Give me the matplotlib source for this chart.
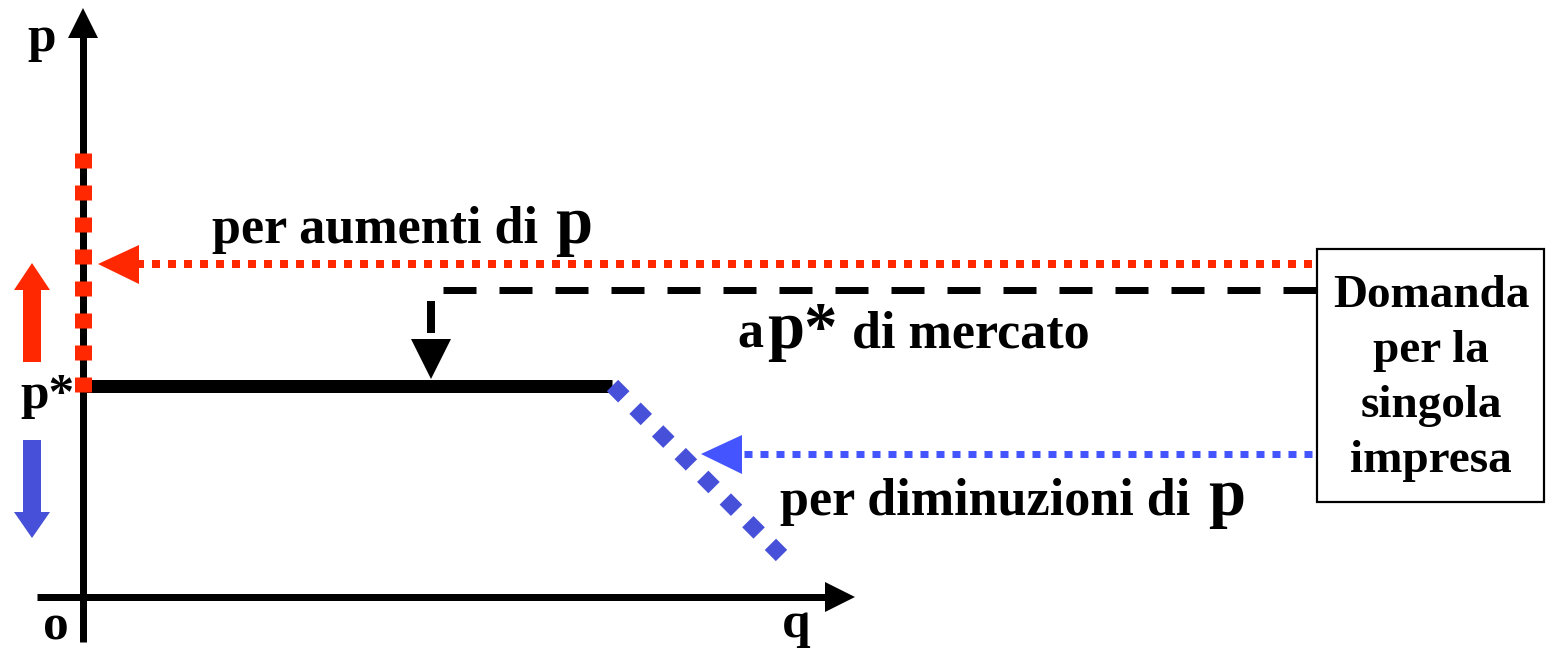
import matplotlib
matplotlib.use("Agg")
import matplotlib.pyplot as plt
from matplotlib.patches import Polygon, Rectangle

# ---------------- diagram values (picture units, y grows downward) ----------
origin_q, origin_p = 83, 597          # origin of the axes
q_axis_end = 855                      # tip of the q axis arrow
p_axis_end = 8                        # tip of the p axis arrow
p_star = 386                          # market price level p*
q_kink = 612                          # end of the flat demand segment
drop_q = [612.5, 781.5]               # demand after price cut (start, end)
drop_p = [385.5, 555.5]
raise_p = [392, 153]                  # vertical demand for price rises
market_level = 290                    # dashed "a p* di mercato" guide
raise_level = 264                     # red dotted pointer level
cut_level = 454                       # blue dotted pointer level
pointer_start = 1312                  # where the pointers leave the box

axis_labels = ["p", "q", "o", "p*"]
label_raise = ["per aumenti di", "p"]
label_market = ["a", "p*", "di mercato"]
label_cut = ["per diminuzioni di", "p"]
box_lines = ["Domanda", "per la", "singola", "impresa"]

RED = "#FF2800"
BLUE_D = "#4650D8"
BLUE_L = "#4455FF"
FONT = "Liberation Serif"

W, H = 1547, 651
fig = plt.figure(figsize=(W / 100, H / 100), dpi=100)
ax = fig.add_axes([0, 0, 1, 1])
ax.set_xlim(0, W)
ax.set_ylim(H, 0)
ax.axis("off")

PT = 72 / 100  # points per pixel


def line(xs, ys, color, lw_px, dash=None, z=2):
    kw = dict(color=color, lw=lw_px * PT, solid_capstyle="butt",
              dash_capstyle="butt", zorder=z)
    if dash is not None:
        kw["dashes"] = (dash[0] / lw_px, dash[1] / lw_px)
    ax.plot(xs, ys, **kw)


def tri(pts, color, z=3):
    ax.add_patch(Polygon(pts, closed=True, color=color, lw=0, zorder=z))


def txt(x, y, s, size, **kw):
    ax.text(x, y, s, fontsize=size, fontfamily=FONT, fontweight="bold",
            va="baseline", **kw)


# ---------------- axes ----------------
line([origin_q, origin_q], [642, p_axis_end + 29], "black", 7)
tri([(origin_q - 15, p_axis_end + 30), (origin_q + 15, p_axis_end + 30),
     (origin_q, p_axis_end)], "black")
line([37, q_axis_end - 29], [origin_p, origin_p], "black", 7)
tri([(q_axis_end - 30, origin_p - 15), (q_axis_end - 30, origin_p + 15),
     (q_axis_end, origin_p)], "black")

txt(27, 51, axis_labels[0], 37)
txt(782, 637, axis_labels[1], 37)
txt(43, 639, axis_labels[2], 37)
txt(20, 408, axis_labels[3], 37)

# ---------------- demand curve ----------------
line([origin_q, q_kink], [p_star, p_star], "black", 13, z=4)
line([origin_q, origin_q], raise_p, RED, 17, dash=(15, 17), z=5)
line(drop_q, drop_p, BLUE_D, 16, dash=(16, 16), z=5)

# ---------------- side arrows ----------------
line([32, 32], [362, 288], RED, 18)
tri([(14, 290), (50, 290), (32, 263)], RED)
line([32, 32], [440, 514], BLUE_D, 18)
tri([(14, 512), (50, 512), (32, 538)], BLUE_D)

# ---------------- pointers from the box ----------------
line([pointer_start, 138], [raise_level, raise_level], RED, 8, dash=(8, 8))
tri([(139, raise_level - 19), (139, raise_level + 20), (98, raise_level)], RED)

line([pointer_start, 741], [cut_level, cut_level], BLUE_L, 7, dash=(8, 8))
tri([(742, cut_level - 19), (742, cut_level + 20), (701, cut_level)], BLUE_L)

line([443, 1318], [market_level, market_level], "black", 7, dash=(33, 23))
line([431, 431], [301, 333], "black", 8)
tri([(411, 339), (451, 339), (431, 379)], "black")

# ---------------- texts ----------------
txt(212, 243, label_raise[0], 37.5)
txt(555, 243, label_raise[1], 48)

txt(737, 348, label_market[0], 37.5)
txt(767, 348, label_market[1], 48)
txt(852, 348, label_market[2], 37.5)

txt(780, 515, label_cut[0], 37.5)
txt(1208, 515, label_cut[1], 48)

ax.add_patch(Rectangle((1317, 249), 227, 253, fill=False, ec="black",
                       lw=2.2 * PT, zorder=6))
for i, s in enumerate(box_lines):
    txt(1431, 307 + 55 * i, s, 34, ha="center")

fig.savefig("out.png", dpi=100)
